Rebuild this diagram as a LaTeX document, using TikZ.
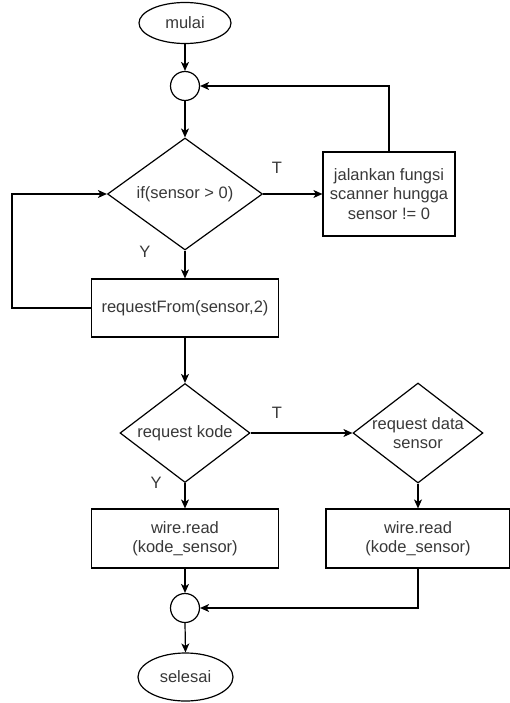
\documentclass[tikz,border=0pt]{standalone}
\usepackage{fontspec}
\setmainfont{Liberation Sans}
\usetikzlibrary{shapes.geometric,arrows.meta}
\begin{document}
\begin{tikzpicture}[x=1pt,y=-1pt,
  every node/.style={font=\fontsize{16.5}{19.5}\selectfont, text=black!78},
  base/.style={draw=black, line width=1.2pt, inner sep=0pt},
  term/.style={base, ellipse},
  joint/.style={base, circle, minimum size=29pt},
  proc/.style={base, rectangle, align=center},
  cond/.style={base, diamond},
  arr/.style={draw=black, line width=1.2pt, -{Stealth[length=9pt,width=8pt,inset=2.5pt]}},
  lbl/.style={inner sep=0pt}]
\useasboundingbox (0,0) rectangle (509,703);
\node[term, minimum width=92pt, minimum height=41pt] (mulai) at (185,23) {mulai};
\node[joint] (c1) at (185,86) {};
\node[cond, minimum width=155pt, minimum height=112pt, label={[lbl]center:if(sensor > 0)}] (d1) at (185,194) {};
\node[proc, minimum width=132pt, minimum height=84pt] (scan) at (389,194) {jalankan fungsi\\scanner hungga\\sensor != 0};
\node[proc, minimum width=187pt, minimum height=58pt] (req) at (185,308) {requestFrom(sensor,2)};
\node[cond, minimum width=130pt, minimum height=99pt, label={[lbl]center:request kode}] (d2) at (185,433) {};
\node[cond, minimum width=130pt, minimum height=100pt, label={[lbl,align=center]center:request data\\sensor}] (d3) at (418,433) {};
\node[proc, minimum width=187pt, minimum height=59pt] (w1) at (185,538.5) {wire.read\\(kode\_sensor)};
\node[proc, minimum width=184pt, minimum height=59pt] (w2) at (418,538.5) {wire.read\\(kode\_sensor)};
\node[joint] (c2) at (185,608) {};
\node[term, minimum width=95pt, minimum height=48pt] (selesai) at (185.5,677) {selesai};
\coordinate (lp) at (12,194);
\node[lbl] (t1) at (277,168) {T};
\node[lbl] (y1) at (145,252) {Y};
\node[lbl] (t2) at (277,413) {T};
\node[lbl] (y2) at (156,483) {Y};
\draw[arr] (mulai) -- (c1);
\draw[arr] (c1) -- (d1);
\draw[arr] (d1.east) -- (scan.west);
\draw[arr] (scan.north) |- (c1.east);
\draw[arr] (d1.south) -- (req.north);
\draw[arr] (req.west) -| (lp) -- (d1.west);
\draw[arr] (req.south) -- (d2.north);
\draw[arr] (d2.east) -- (d3.west);
\draw[arr] (d2.south) -- (w1.north);
\draw[arr] (d3.south) -- (w2.north);
\draw[arr] (w1.south) -- (c2.north);
\draw[arr] (w2.south) |- (c2.east);
\draw[arr] (c2.south) -- (selesai.north);
\end{tikzpicture}
\end{document}
